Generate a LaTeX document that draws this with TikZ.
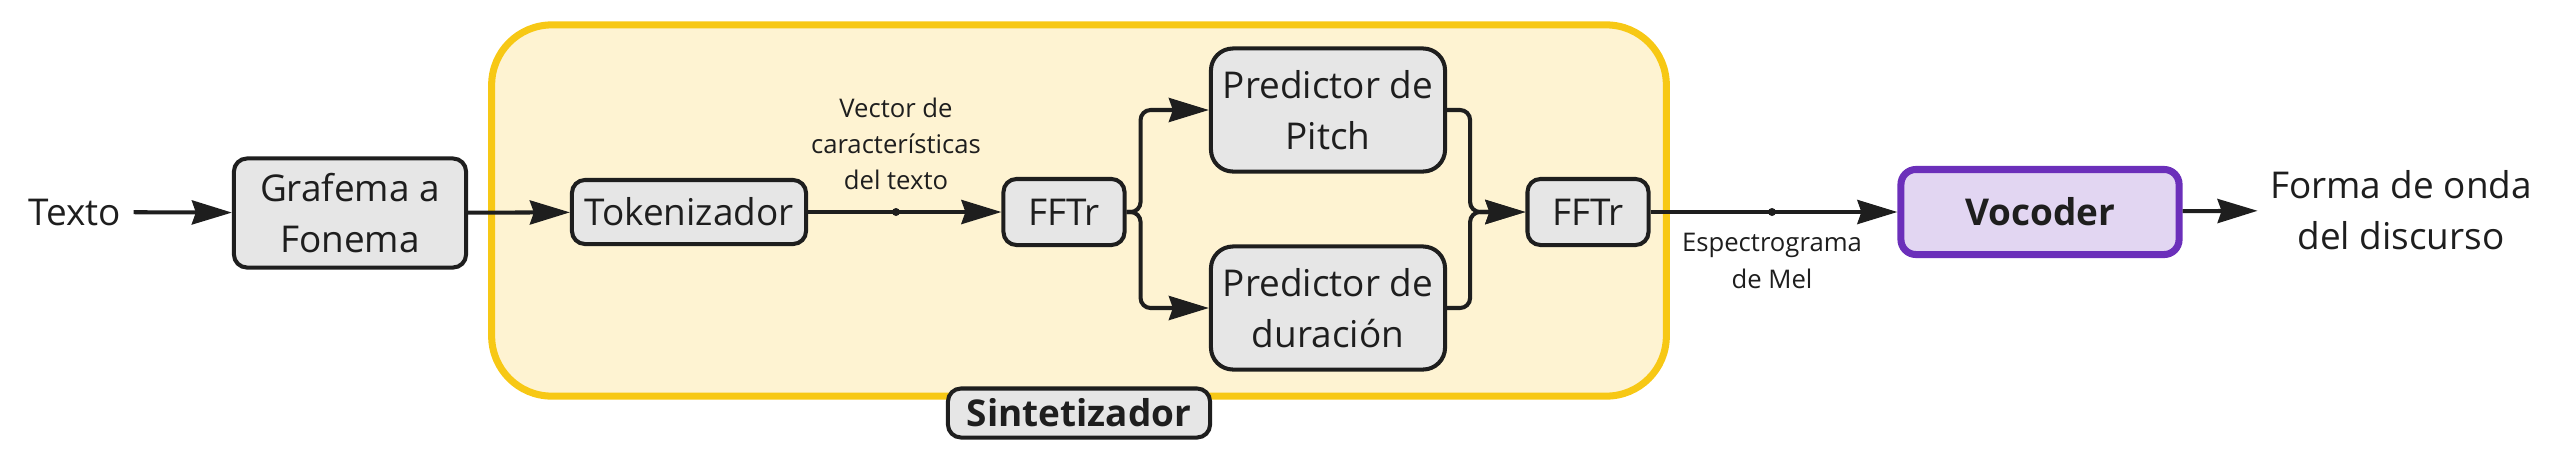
\documentclass[tikz,border=0pt]{standalone}
\usepackage{fontspec}
\setmainfont{Open Sans}
\usepackage{tikz}
\usetikzlibrary{positioning, arrows.meta}
\definecolor{sintyellow}{HTML}{F7C815}
\definecolor{sintfill}{HTML}{FEF3D2}
\definecolor{boxgray}{HTML}{E6E6E6}
\definecolor{boxline}{HTML}{1E1E1E}
\definecolor{vocpurple}{HTML}{6B2FBA}
\definecolor{vocfill}{HTML}{E2D6F2}

\begin{document}
\begin{tikzpicture}[x=0.01cm, y=-0.01cm, font=\fontsize{10.5}{14.6}\selectfont, text=boxline]

% Styles
\tikzset{
  block/.style={draw=boxline, fill=boxgray, line width=1.15pt, rounded corners=0.13cm, align=center, inner sep=0pt},
  predbox/.style={block, rounded corners=0.22cm, minimum width=2.34cm, minimum height=1.23cm},
  fftbox/.style={block, minimum width=1.21cm, minimum height=0.66cm},
  container/.style={draw=sintyellow, fill=sintfill, line width=2pt, rounded corners=0.6cm, inner sep=0pt},
  vocbox/.style={draw=vocpurple, fill=vocfill, line width=2pt, rounded corners=0.15cm, inner sep=0pt},
  flow/.style={draw=boxline, line width=1.15pt, -{Stealth[length=0.40cm, width=0.24cm, inset=0.04cm]}},
  lbl/.style={font=\fontsize{7.3}{10.3}\selectfont, align=center, inner sep=0pt},
  tap/.style={circle, fill=boxline, inner sep=0pt, minimum size=0.08cm}
}

\useasboundingbox (0,0) rectangle (2563,466);

% Sintetizador block
\node[container, minimum width=11.74cm, minimum height=3.71cm] (sint) at (1079,210.5) {};
\node[block, minimum width=2.62cm, minimum height=0.49cm] (sintlbl) at (1079,413) {\textbf{Sintetizador}};

% Nodes
\node (texto) at (75,212) {Texto};
\node[block, minimum width=2.32cm, minimum height=1.09cm] (g2p) at (350,213) {Grafema a\\Fonema};
\node[block, minimum width=2.34cm, minimum height=0.64cm] (token) at (689,212) {Tokenizador};
\node[tap] (vec) at (896,212) {};
\node[fftbox] (fft1) at (1064,212) {FFTr};
\node[predbox] (pitch) at (1328,110) {Predictor de\\Pitch};
\node[predbox] (dur) at (1328,308) {Predictor de\\duración};
\node[fftbox] (fft2) at (1588,212) {FFTr};
\node[tap] (mel) at (1772,212) {};
\node[vocbox, minimum width=2.78cm, minimum height=0.85cm] (voc) at (2040,212) {\textbf{Vocoder}};
\node[align=center] (onda) at (2401,210) {Forma de onda\\del discurso};

% Labels
\node[lbl] (veclbl) at (896,144) {Vector de\\características\\del texto};
\node[lbl] (mellbl) at (1772,261) {Espectrograma\\de Mel};

% Connectors
\draw[flow] (texto) -- (g2p);
\draw[flow] (g2p) -- (token);
\draw[flow] (token) -- (vec.center) -- (fft1);
\draw[flow, rounded corners=0.1cm] (fft1.east) -- ++(14,0) |- (pitch.west);
\draw[flow, rounded corners=0.1cm] (fft1.east) -- ++(14,0) |- (dur.west);
\draw[flow, rounded corners=0.1cm] (pitch.east) -- ++(23,0) |- (fft2.west);
\draw[flow, rounded corners=0.1cm] (dur.east) -- ++(23,0) |- (fft2.west);
\draw[flow] (fft2) -- (mel.center) -- (voc);
\draw[flow] (voc) -- (onda);

\end{tikzpicture}
\end{document}
